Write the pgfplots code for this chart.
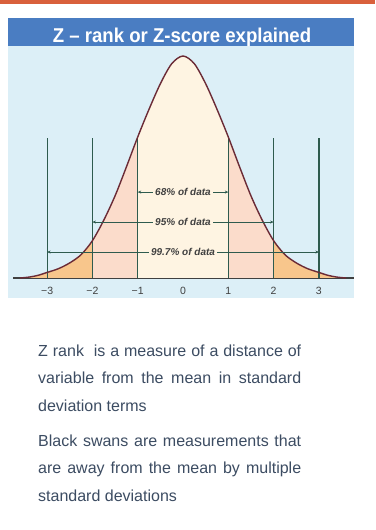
\documentclass[border=0pt]{standalone}
\usepackage{fontspec}
\setmainfont{Liberation Sans}
\newfontfamily\titlefont[FakeStretch=0.93]{Liberation Sans}
\usepackage{pgfplots}
\pgfplotsset{compat=1.18}
\usetikzlibrary{arrows.meta}

\definecolor{topbar}{HTML}{D9603C}
\definecolor{titleblue}{HTML}{4A7DC2}
\definecolor{panel}{HTML}{DCEFF7}
\definecolor{cream}{HTML}{FEF4E2}
\definecolor{pinkfill}{HTML}{FBDCCB}
\definecolor{orangefill}{HTML}{F8C68C}
\definecolor{sdline}{HTML}{2E5B4E}
\definecolor{curvecol}{HTML}{6B2B36}
\definecolor{axiscol}{HTML}{404040}
\definecolor{labcol}{HTML}{3F3F3F}
\definecolor{bodytext}{HTML}{3C4C62}

\begin{document}
\begin{tikzpicture}
% page and background panels, in bp from the bottom left corner
\begin{scope}[x=1bp,y=1bp]
\fill[white] (0,0) rectangle (375,530);
\path[use as bounding box] (0,0) rectangle (375,530);
\fill[topbar] (0,526) rectangle (375,530);
\fill[panel] (8,232) rectangle (354,484);
\fill[titleblue] (8,484) rectangle (354,512);
\node[anchor=base, text=white, font=\titlefont\bfseries\fontsize{20bp}{22bp}\selectfont]
  at (182,487) {Z – rank or Z-score explained};
\end{scope}

\begin{axis}[
    at={(13bp,252bp)}, anchor=south west,
    width=341bp, height=232bp, scale only axis,
    xmin=-3.753, xmax=3.775, ymin=0, ymax=1.045,
    axis x line=bottom, axis y line=none,
    x axis line style={-, color=axiscol, line width=1.3bp},
    xtick={-3,-2,-1,0,1,2,3},
    xticklabels={−3,−2,−1,0,1,2,3},
    tick align=inside, major tick length=3.5bp,
    tick style={color=axiscol, line width=0.9bp},
    xticklabel style={anchor=base, yshift=-17bp, text=labcol,
        font=\fontsize{10.5bp}{11bp}\selectfont},
    clip=false,
]
% areas under the curve
\addplot[fill=orangefill, draw=none, smooth] coordinates {
  (-3.6,0) (-3.4,0.004) (-3.2,0.012) (-3,0.025) (-2.75,0.042) (-2.5,0.068)
  (-2.25,0.105) (-2,0.168)} \closedcycle;
\addplot[fill=pinkfill, draw=none, smooth] coordinates {
  (-2,0.168) (-1.75,0.26) (-1.5,0.37) (-1.25,0.50) (-1,0.635)} \closedcycle;
\addplot[fill=cream, draw=none, smooth] coordinates {
  (-1,0.635) (-0.75,0.76) (-0.5,0.875) (-0.25,0.965) (0,1.0) (0.25,0.965)
  (0.5,0.875) (0.75,0.76) (1,0.635)} \closedcycle;
\addplot[fill=pinkfill, draw=none, smooth] coordinates {
  (1,0.635) (1.25,0.50) (1.5,0.37) (1.75,0.26) (2,0.168)} \closedcycle;
\addplot[fill=orangefill, draw=none, smooth] coordinates {
  (2,0.168) (2.25,0.105) (2.5,0.068) (2.75,0.042) (3,0.025) (3.2,0.012)
  (3.4,0.004) (3.6,0)} \closedcycle;

% standard deviation lines
\addplot[sdline, line width=1.2bp] coordinates {(-3,0) (-3,0.63)};
\addplot[sdline, line width=1.2bp] coordinates {(-2,0) (-2,0.63)};
\addplot[sdline, line width=1.2bp] coordinates {(-1,0) (-1,0.63)};
\addplot[sdline, line width=1.2bp] coordinates {(1,0) (1,0.63)};
\addplot[sdline, line width=1.2bp] coordinates {(2,0) (2,0.63)};
\addplot[sdline, line width=1.2bp] coordinates {(3,0) (3,0.63)};

% the bell curve
\addplot[curvecol, line width=1.4bp, smooth] coordinates {
  (-3.6,0) (-3.4,0.004) (-3.2,0.012) (-3,0.025) (-2.75,0.042) (-2.5,0.068)
  (-2.25,0.105) (-2,0.168) (-1.75,0.26) (-1.5,0.37) (-1.25,0.50) (-1,0.635)
  (-0.75,0.76) (-0.5,0.875) (-0.25,0.965) (0,1.0) (0.25,0.965) (0.5,0.875)
  (0.75,0.76) (1,0.635) (1.25,0.50) (1.5,0.37) (1.75,0.26) (2,0.168)
  (2.25,0.105) (2.5,0.068) (2.75,0.042) (3,0.025) (3.2,0.012) (3.4,0.004)
  (3.6,0)
};

% coverage arrows
\draw[sdline, line width=1bp, {Stealth[length=3.5bp,width=3bp]}-{Stealth[length=3.5bp,width=3bp]}]
  (axis cs:-1,0.387) -- (axis cs:1,0.387)
  node[midway, fill=cream, inner sep=2bp, text=axiscol, font=\itshape\bfseries\fontsize{10bp}{11bp}\selectfont] {68\% of data};
\draw[sdline, line width=1bp, {Stealth[length=3.5bp,width=3bp]}-{Stealth[length=3.5bp,width=3bp]}]
  (axis cs:-2,0.252) -- (axis cs:2,0.252)
  node[midway, fill=cream, inner sep=2bp, text=axiscol, font=\itshape\bfseries\fontsize{10bp}{11bp}\selectfont] {95\% of data};
\draw[sdline, line width=1bp, {Stealth[length=3.5bp,width=3bp]}-{Stealth[length=3.5bp,width=3bp]}]
  (axis cs:-3,0.117) -- (axis cs:3,0.117)
  node[midway, fill=cream, inner sep=2bp, text=axiscol, font=\itshape\bfseries\fontsize{10bp}{11bp}\selectfont] {99.7\% of data};
\end{axis}

% explanatory text
\begin{scope}[x=1bp,y=1bp, every node/.style={anchor=base west, inner sep=0pt, text=bodytext,
    font=\fontsize{16bp}{19bp}\selectfont}]
\node at (38,173) {\makebox[263bp][s]{Z rank \ is a measure of a distance of}};
\node at (38,146) {\makebox[263bp][s]{variable from the mean in standard}};
\node at (38,118) {deviation terms};
\node at (38,83) {\makebox[263bp][s]{Black swans are measurements that}};
\node at (38,56) {\makebox[263bp][s]{are away from the mean by multiple}};
\node at (38,28) {standard deviations};
\end{scope}
\end{tikzpicture}
\end{document}
